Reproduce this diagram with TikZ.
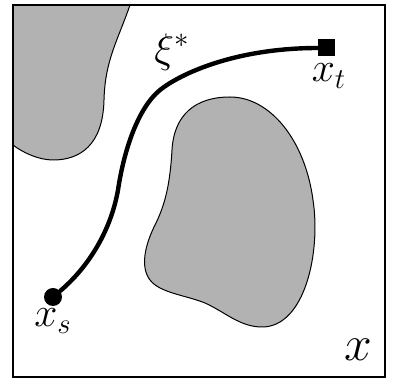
\documentclass[tikz,border=0pt]{standalone}
\begin{document}
\begin{tikzpicture}[x=0.5pt,y=-0.5pt,
  obst/.style={fill=black!30,draw=black,line width=0.5pt},
  lbl/.style={font=\fontsize{20}{24}\selectfont,inner sep=0pt},
  pathline/.style={line width=2.2pt,line cap=round}]
\useasboundingbox (0,0) rectangle (393,379);
% left obstacle
\fill[black!30] (13,5) -- (130,5) .. controls (118,40) and (105,60) .. (104,100)
  .. controls (103,145) and (80,160) .. (53,160)
  .. controls (38,160) and (22,152) .. (13,145) -- cycle;
\draw[line width=0.5pt] (130,5) .. controls (118,40) and (105,60) .. (104,100)
  .. controls (103,145) and (80,160) .. (53,160)
  .. controls (38,160) and (22,152) .. (13,145);
% big obstacle
\draw[obst] (230,97) .. controls (270,97) and (305,140) .. (313,200)
  .. controls (321,252) and (305,327) .. (262,327)
  .. controls (240,327) and (225,312) .. (205,303)
  .. controls (185,295) and (160,293) .. (150,280)
  .. controls (140,267) and (145,245) .. (155,225)
  .. controls (165,205) and (170,185) .. (172,150)
  .. controls (174,115) and (195,97) .. (230,97) -- cycle;
% frame
\node[draw=black,line width=1pt,minimum width=186pt,minimum height=186pt,inner sep=0pt] (frame) at (199,191) {};
% start and goal
\node[circle,fill=black,minimum size=9pt,inner sep=0pt] (xs) at (53,297) {};
\node[rectangle,fill=black,minimum size=8.5pt,inner sep=0pt] (xt) at (327,48) {};
\draw[pathline] (xs) .. controls (85,270) and (110,235) .. (118,190)
  .. controls (124,150) and (138,108) .. (160,90)
  .. controls (180,74) and (235,48) .. (xt);
% labels
\node[lbl] (xi) at (172,52) {$\xi^*$};
\node[lbl] (xtl) at (329,76) {$x_t$};
\node[lbl] (xsl) at (53,321) {$x_s$};
\node[lbl,font=\fontsize{32}{36}\selectfont] (X) at (358,350) {$x$};
\end{tikzpicture}
\end{document}
